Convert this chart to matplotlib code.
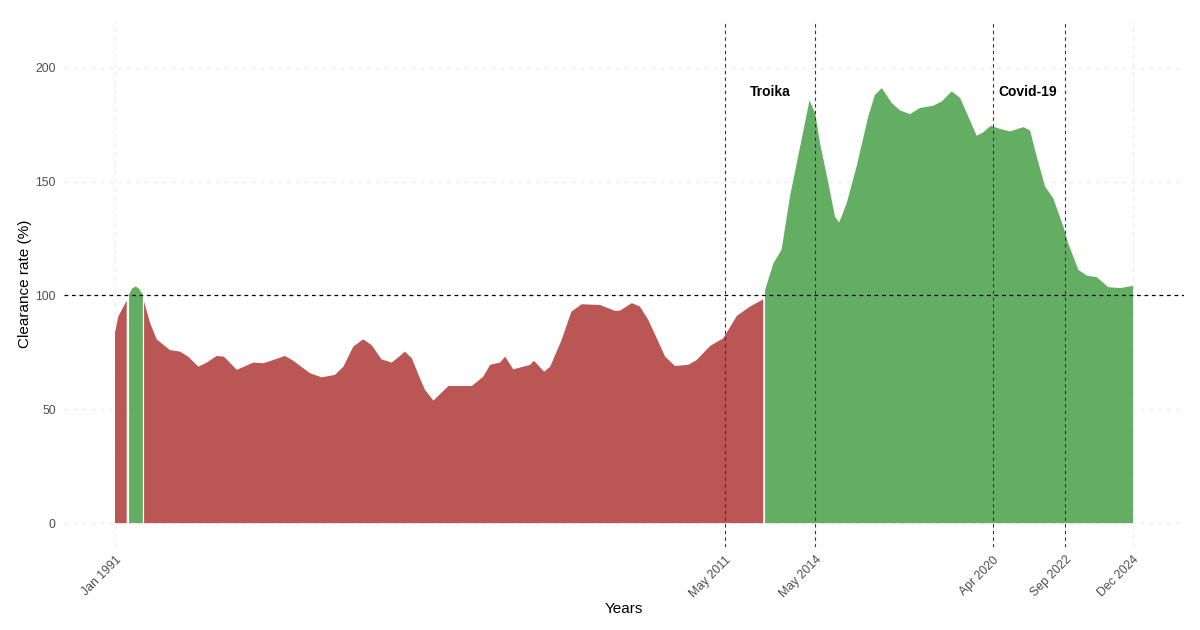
import numpy as np
import matplotlib
matplotlib.use("Agg")
import matplotlib.pyplot as plt

plt.rcParams['font.family'] = ['Liberation Sans', 'DejaVu Sans']

# decimal years and clearance rate (%)
years = [1991.00, 1991.11, 1991.39, 1991.47, 1991.57, 1991.69, 1991.80, 1991.93,
         1991.97, 1992.17, 1992.39, 1992.83, 1993.17, 1993.44, 1993.78, 1994.06,
         1994.39, 1994.63, 1995.06, 1995.61, 1995.94, 1996.27, 1996.66, 1996.94,
         1997.50, 1997.89, 1998.33, 1998.61, 1998.94, 1999.27, 1999.55, 1999.88,
         2000.22, 2000.44, 2000.66, 2000.89, 2001.16, 2001.33, 2001.61, 2002.11,
         2002.89, 2003.27, 2003.50, 2003.83, 2004.00, 2004.27, 2004.83, 2004.96,
         2005.30, 2005.50, 2005.88, 2006.21, 2006.55, 2007.16, 2007.66, 2007.83,
         2008.22, 2008.49, 2008.77, 2009.05, 2009.33, 2009.66, 2010.10, 2010.38,
         2010.83, 2011.27, 2011.72, 2012.16, 2012.60, 2012.66, 2012.94, 2013.21,
         2013.49, 2013.83, 2014.14, 2014.33, 2014.49, 2014.77, 2014.99, 2015.13,
         2015.38, 2015.71, 2016.10, 2016.32, 2016.55, 2016.88, 2017.16, 2017.49,
         2017.82, 2018.27, 2018.55, 2018.88, 2019.16, 2019.43, 2019.71, 2019.93,
         2020.18, 2020.49, 2020.82, 2021.27, 2021.49, 2021.71, 2021.99, 2022.26,
         2022.60, 2022.76, 2023.10, 2023.38, 2023.71, 2024.10, 2024.49, 2024.92]
rate = [83.6, 90.7, 97.7, 100.5, 103.0, 103.9, 103.0, 100.3,
        97.3, 87.9, 80.7, 76.0, 75.3, 73.1, 68.7, 70.5,
        73.4, 73.1, 67.3, 70.5, 70.2, 71.6, 73.4, 71.3,
        65.8, 64.0, 65.1, 68.7, 77.5, 80.7, 78.2, 71.9,
        70.5, 72.8, 75.3, 72.4, 63.6, 58.5, 53.8, 60.2,
        60.2, 64.3, 69.5, 70.5, 73.1, 67.5, 69.5, 71.3,
        66.5, 68.7, 80.4, 92.9, 96.1, 95.8, 93.2, 93.3,
        96.6, 95.1, 89.2, 81.2, 73.1, 69.0, 69.5, 71.6,
        77.8, 81.2, 91.0, 95.1, 98.3, 102.4, 114.1, 120.0,
        143.4, 165.4, 185.6, 180.1, 166.9, 149.3, 134.6, 132.0,
        140.5, 156.6, 178.6, 188.1, 191.0, 184.5, 181.2, 179.6,
        182.3, 183.3, 185.2, 189.6, 186.7, 178.6, 170.1, 171.6,
        174.5, 173.1, 172.0, 173.9, 172.4, 161.0, 147.8, 142.7,
        130.2, 122.9, 111.2, 108.7, 108.0, 103.6, 103.2, 104.2]

tick_pos = [1991.0, 2011 + 4 / 12, 2014 + 4 / 12, 2020.25, 2022 + 8 / 12, 2024 + 11 / 12]
tick_labels = ["Jan 1991", "May 2011", "May 2014", "Apr 2020", "Sep 2022", "Dec 2024"]
event_lines = tick_pos[1:5]
events = [("Troika", 2012.83), ("Covid-19", 2021.42)]

x = np.array(years)
y = np.array(rate)
above = y >= 100

fig = plt.figure(figsize=(12, 6.3), dpi=100)
ax = fig.add_axes([0.0533, 0.1317, 0.9334, 0.835])

ax.fill_between(x, 0, y, where=~above, color="#BA5653", linewidth=0)
ax.fill_between(x, 0, y, where=above, color="#64AE64", linewidth=0)

for v in event_lines:
    ax.axvline(v, color="#333333", linestyle=(0, (3, 3)), linewidth=0.8, zorder=3)
ax.axhline(100, color="black", linestyle=(0, (3, 3)), linewidth=0.9, zorder=3)

for name, t in events:
    ax.text(t, 189.5, name, ha="center", va="center", fontsize=10,
            fontweight="bold", color="black")

ax.set_xlim(1991.0 - 1.7, 2024.92 + 1.7)
ax.set_ylim(-10.5, 220.5)
ax.set_yticks([0, 50, 100, 150, 200])
ax.set_xticks(tick_pos)
ax.set_xticklabels(tick_labels, rotation=45, ha="right", rotation_mode="anchor")
ax.tick_params(axis="both", length=0, labelsize=8.8, labelcolor="#4D4D4D")
ax.tick_params(axis="y", pad=6)
ax.tick_params(axis="x", pad=5)

ax.grid(True, color="#EBEBEB", linestyle=(0, (4, 4)), linewidth=0.8)
ax.set_axisbelow(True)
for s in ax.spines.values():
    s.set_visible(False)

ax.set_xlabel("Years", fontsize=11, labelpad=1)
ax.set_ylabel("Clearance rate (%)", fontsize=11, labelpad=2)

fig.savefig("out.png", dpi=100)
